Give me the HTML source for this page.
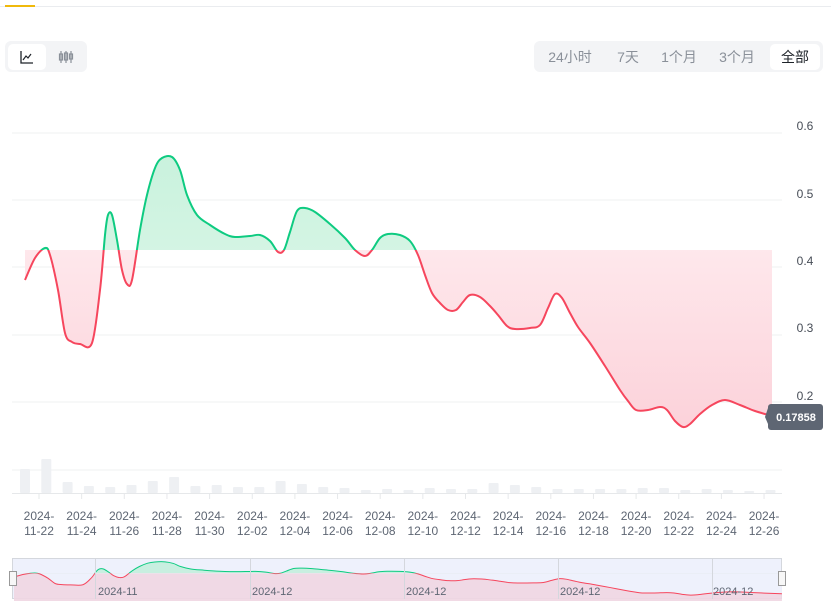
<!DOCTYPE html>
<html><head><meta charset="utf-8"><style>
body{margin:0;width:831px;height:601px;background:#fff;overflow:hidden;font-family:"Liberation Sans","Noto Sans CJK SC",sans-serif;position:relative}
.a{position:absolute}
.grp{background:#f3f4f6;border-radius:6px}
.btn{position:absolute;top:3px;height:26px;line-height:26px;font-size:14px;color:#8a9099;text-align:center}
.w{background:#fff;border-radius:5px;color:#1e2329}
</style></head><body>
<div class="a" style="left:0;top:6px;width:831px;height:1px;background:#eaecef"></div>
<div class="a" style="left:5px;top:5px;width:30px;height:2px;background:#f0b90b"></div>
<div class="a grp" style="left:5px;top:41px;width:82px;height:31px">
 <div class="btn w" style="left:3px;width:38px"><svg width="14" height="14" style="margin-top:6px" viewBox="0 0 14 14"><path d="M1 1V13H13" stroke="#1e2329" fill="none" stroke-width="1.3"/><path d="M3 10L6 6L8 8L11 4" stroke="#1e2329" fill="none" stroke-width="1.2"/></svg></div>
 <div class="btn" style="left:46px;width:30px;color:#8a9099">
 <svg width="16" height="14" style="margin-top:6px" viewBox="0 0 16 14"><g stroke="#8a9099" fill="none" stroke-width="1.2"><path d="M3 1V13M8 1V13M13 1V13"/><rect x="1.5" y="4" width="3" height="6"/><rect x="6.5" y="3" width="3" height="7"/><rect x="11.5" y="4" width="3" height="5"/></g></svg></div>
</div>
<div class="a grp" style="left:534px;top:41px;width:289px;height:31px">
 <div class="btn" style="left:8px;width:56px">24小时</div>
 <div class="btn" style="left:76px;width:36px">7天</div>
 <div class="btn" style="left:122px;width:46px">1个月</div>
 <div class="btn" style="left:180px;width:46px">3个月</div>
 <div class="btn w" style="left:236px;width:50px">全部</div>
</div>
<svg class="a" style="left:0;top:0" width="831" height="601">
<defs>
<linearGradient id="pg" x1="0" y1="0" x2="0" y2="1"><stop offset="0" stop-color="#fff3f5"/><stop offset="1" stop-color="#fcd2da"/></linearGradient>
<linearGradient id="gg" x1="0" y1="0" x2="0" y2="1"><stop offset="0" stop-color="#c9f2dd"/><stop offset="1" stop-color="#e8f9f0"/></linearGradient>
<clipPath id="up"><rect x="0" y="0" width="831" height="250"/></clipPath>
<clipPath id="dn"><rect x="0" y="250" width="831" height="351"/></clipPath>
</defs>
<g stroke="#eff0f2" stroke-width="1">
<line x1="12" x2="782" y1="133" y2="133"/><line x1="12" x2="782" y1="200" y2="200"/><line x1="12" x2="782" y1="267" y2="267"/><line x1="12" x2="782" y1="335" y2="335"/><line x1="12" x2="782" y1="402" y2="402"/><line x1="12" x2="782" y1="470" y2="470"/>
</g>
<g font-size="12" fill="#474d57" text-anchor="middle">
<text x="805" y="130">0.6</text><text x="805" y="198">0.5</text><text x="805" y="265">0.4</text><text x="805" y="332">0.3</text><text x="805" y="400">0.2</text>
</g>
<g fill="#eef0f3" id="bars"></g>
<line x1="12" x2="782" y1="493.5" y2="493.5" stroke="#e6e8ea"/>
<g id="ticks" stroke="#e6e8ea"></g>
<g id="xl" font-size="12" fill="#5e6673" text-anchor="middle"></g>
<g id="main"></g>
<g>
<path d="M768 408 L765 417 L768 424 Z" fill="#5e6673"/>
<rect x="768" y="404" width="55" height="26" rx="3" fill="#5e6673"/>
<text x="796" y="421" font-size="11" font-weight="bold" fill="#fff" text-anchor="middle">0.17858</text>
</g>
<rect x="12.5" y="558.5" width="769" height="40" fill="#eef1fc" stroke="#d4d7dd"/>
<g id="nav"></g>
<g stroke="#d4d7dd"><line x1="95.5" x2="95.5" y1="558" y2="599"/><line x1="250.5" x2="250.5" y1="558" y2="599"/><line x1="404.5" x2="404.5" y1="558" y2="599"/><line x1="558.5" x2="558.5" y1="558" y2="599"/><line x1="712.5" x2="712.5" y1="558" y2="599"/></g>
<g font-size="11" fill="#5e6673"><text x="98" y="595">2024-11</text><text x="252" y="595">2024-12</text><text x="406" y="595">2024-12</text><text x="560" y="595">2024-12</text><text x="713" y="595">2024-12</text></g>
<rect x="9.5" y="571.5" width="7" height="14" fill="#f7f7f7" stroke="#999"/>
<rect x="778.5" y="571.5" width="7" height="14" fill="#f7f7f7" stroke="#999"/>
</svg>
<script>
var P=[[25,280],[35,258],[45,248],[50,255],[58,290],[65,333],[72,342],[80,344],[92,343],[100,290],[105,235],[108,215],[112,215],[117,240],[122,270],[127,284],[132,280],[140,230],[147,195],[155,168],[162,158],[172,157],[180,170],[187,195],[197,215],[210,225],[225,234],[235,237],[250,236],[260,235],[270,241],[278,252],[284,250],[290,232],[297,211],[305,208],[315,212],[330,224],[345,238],[355,250],[365,256],[372,250],[380,238],[388,234],[400,235],[410,241],[418,255],[425,275],[432,293],[440,303],[448,310],[456,310],[463,302],[470,295],[480,297],[490,306],[498,315],[507,326],[515,329],[530,328],[540,325],[548,308],[555,294],[562,298],[570,313],[578,327],[590,343],[605,366],[620,390],[628,401],[636,410],[648,410],[660,407],[667,410],[675,421],[683,427],[690,424],[700,414],[712,405],[725,400],[740,405],[755,411],[772,416]];
function sm(p){var d="M"+p[0][0]+" "+p[0][1];for(var i=0;i<p.length-1;i++){var a=p[i-1]||p[i],b=p[i],c=p[i+1],e=p[i+2]||c;d+=" C"+(b[0]+(c[0]-a[0])/6).toFixed(1)+" "+(b[1]+(c[1]-a[1])/6).toFixed(1)+" "+(c[0]-(e[0]-b[0])/6).toFixed(1)+" "+(c[1]-(e[1]-b[1])/6).toFixed(1)+" "+c[0]+" "+c[1];}return d;}
var L=sm(P),A=L+" L772 250 L25 250 Z";
var m=document.getElementById('main');
m.innerHTML='<path d="M25 250 L772 250 L772 416 '+sm(P.slice().reverse()).replace(/^M[^C]*/,'')+' Z" fill="url(#pg)" clip-path="url(#dn)"/>'+
'<path d="'+A+'" fill="url(#gg)" clip-path="url(#up)"/><path d="'+L+'" fill="none" stroke="#0ecb81" stroke-width="2" clip-path="url(#up)"/><path d="'+L+'" fill="none" stroke="#f6465d" stroke-width="2" clip-path="url(#dn)"/>';
var n=document.getElementById('nav');
n.innerHTML='<g transform="matrix(1.028 0 0 0.1231 -11.7 542.5)"><path d="M25 250 L772 250 L772 520 L25 520 Z" fill="#f0d6e2" opacity="0.9"/><path d="'+A+'" fill="#c8efe0" clip-path="url(#up)"/><path d="M25 250 '+L.replace(/^M[^C]*/,'L25 280 ')+' L772 250 Z" fill="#eef1fc" clip-path="url(#dn)"/><path d="'+L+'" fill="none" stroke="#0ecb81" stroke-width="1" clip-path="url(#up)" vector-effect="non-scaling-stroke"/><path d="'+L+'" fill="none" stroke="#f6465d" stroke-width="1" clip-path="url(#dn)" vector-effect="non-scaling-stroke"/></g>';
var H=[469,459,482,486,487,485,481,477,486,485,487,487,481,484,487,488,490,489,490,488,489,489,483,485,487,489,489,489,489,488,488,490,489,490,491,490];
var b='';for(var i=0;i<H.length;i++){var x=20+i*21.3;b+='<rect x="'+x.toFixed(1)+'" y="'+H[i]+'" width="10" height="'+(493-H[i])+'" rx="1"/>';}
document.getElementById('bars').innerHTML=b;
var D=['11-22','11-24','11-26','11-28','11-30','12-02','12-04','12-06','12-08','12-10','12-12','12-14','12-16','12-18','12-20','12-22','12-24','12-26'];
var t='',xl='';for(var i=0;i<D.length;i++){var x=39+i*42.65;t+='<line x1="'+x+'" x2="'+x+'" y1="494" y2="499"/>';xl+='<text x="'+x+'" y="520">2024-</text><text x="'+x+'" y="535">'+D[i]+'</text>';}
document.getElementById('ticks').innerHTML=t;document.getElementById('xl').innerHTML=xl;
</script>
</body></html>
